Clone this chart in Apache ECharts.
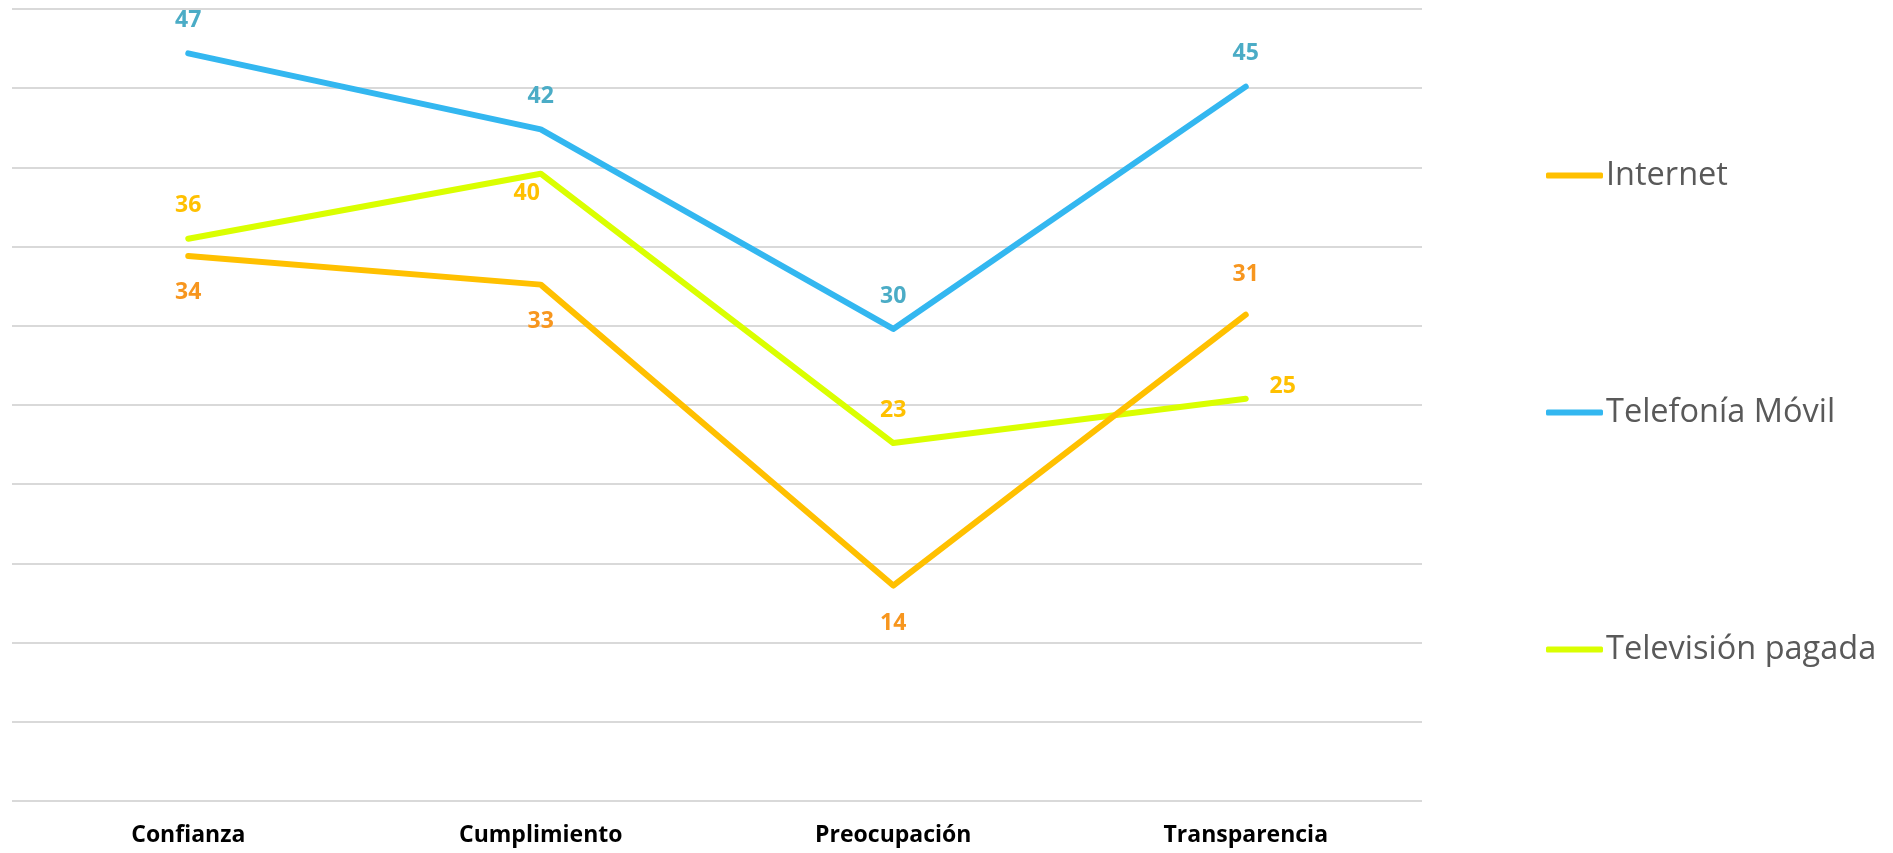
<!DOCTYPE html>
<html>
<head>
<meta charset="utf-8">
<script src="https://cdn.jsdelivr.net/npm/echarts@6/dist/echarts.min.js"></script>
<style>
html,body{margin:0;padding:0;background:#fff;}
#chart{width:1893px;height:853px;}
</style>
</head>
<body>
<div id="chart"></div>
<script>
// ---- data ----
const categories = ['Confianza', 'Cumplimiento', 'Preocupación', 'Transparencia'];
const seriesNames = ['Internet', 'Telefonía Móvil', 'Televisión pagada'];
const internetValues = [34.4, 32.6, 13.6, 30.7];
const movilValues = [47.2, 42.4, 29.8, 45.1];
const tvValues = [35.5, 39.6, 22.6, 25.4];
const yTicks = [0, 5, 10, 15, 20, 25, 30, 35, 40, 45, 50];

// ---- styles ----
const lineColors = ['#FFC000', '#33B7F0', '#DAFF00'];
const labelColors = ['#F7961E', '#4BACC6', '#FFC000'];
const labelOffsets = [
  [[0, 36], [0, 37], [0, 38], [0, -40]],
  [[0, -33], [0, -33], [0, -33], [0, -33]],
  [[0, -33], [-14, 20], [0, -33], [37, -12]]
];
const allValues = [internetValues, movilValues, tvValues];

const chart = echarts.init(document.getElementById('chart'));

const series = allValues.map((vals, si) => ({
  name: seriesNames[si],
  type: 'line',
  data: vals.map((v, i) => ({
    value: v,
    label: { offset: labelOffsets[si][i] }
  })),
  symbol: 'circle',
  symbolSize: 2,
  showSymbol: true,
  itemStyle: { color: lineColors[si] },
  lineStyle: { color: lineColors[si], width: 6, cap: 'round', join: 'round' },
  label: {
    show: true,
    position: 'inside',
    color: labelColors[si],
    fontFamily: 'Open Sans',
    fontWeight: 'bold',
    fontSize: 23,
    formatter: p => Math.round(p.value)
  },
  z: 3 - si,
  animation: false
}));

chart.setOption({
  animation: false,
  backgroundColor: '#ffffff',
  grid: { left: 12, right: 471, top: 9, bottom: 52, containLabel: false },
  legend: {
    orient: 'vertical',
    left: 1541,
    top: 154,
    itemGap: 204,
    itemWidth: 57,
    itemHeight: 6,
    icon: 'roundRect',
    data: seriesNames,
    textStyle: { color: '#595959', fontFamily: 'Open Sans', fontSize: 32.5, lineHeight: 33, padding: [0, 0, 0, -2] }
  },
  xAxis: {
    type: 'category',
    data: categories,
    boundaryGap: true,
    axisLine: { show: false },
    axisTick: { show: false },
    axisLabel: { color: '#000000', fontFamily: 'Open Sans', fontWeight: 'bold', fontSize: 23, margin: 23 }
  },
  yAxis: {
    type: 'value',
    min: yTicks[0],
    max: yTicks[yTicks.length - 1],
    interval: yTicks[1] - yTicks[0],
    axisLabel: { show: false },
    axisLine: { show: false },
    axisTick: { show: false },
    splitLine: { show: true, lineStyle: { color: '#D9D9D9', width: 2 } }
  },
  series: series
});
</script>
</body>
</html>
